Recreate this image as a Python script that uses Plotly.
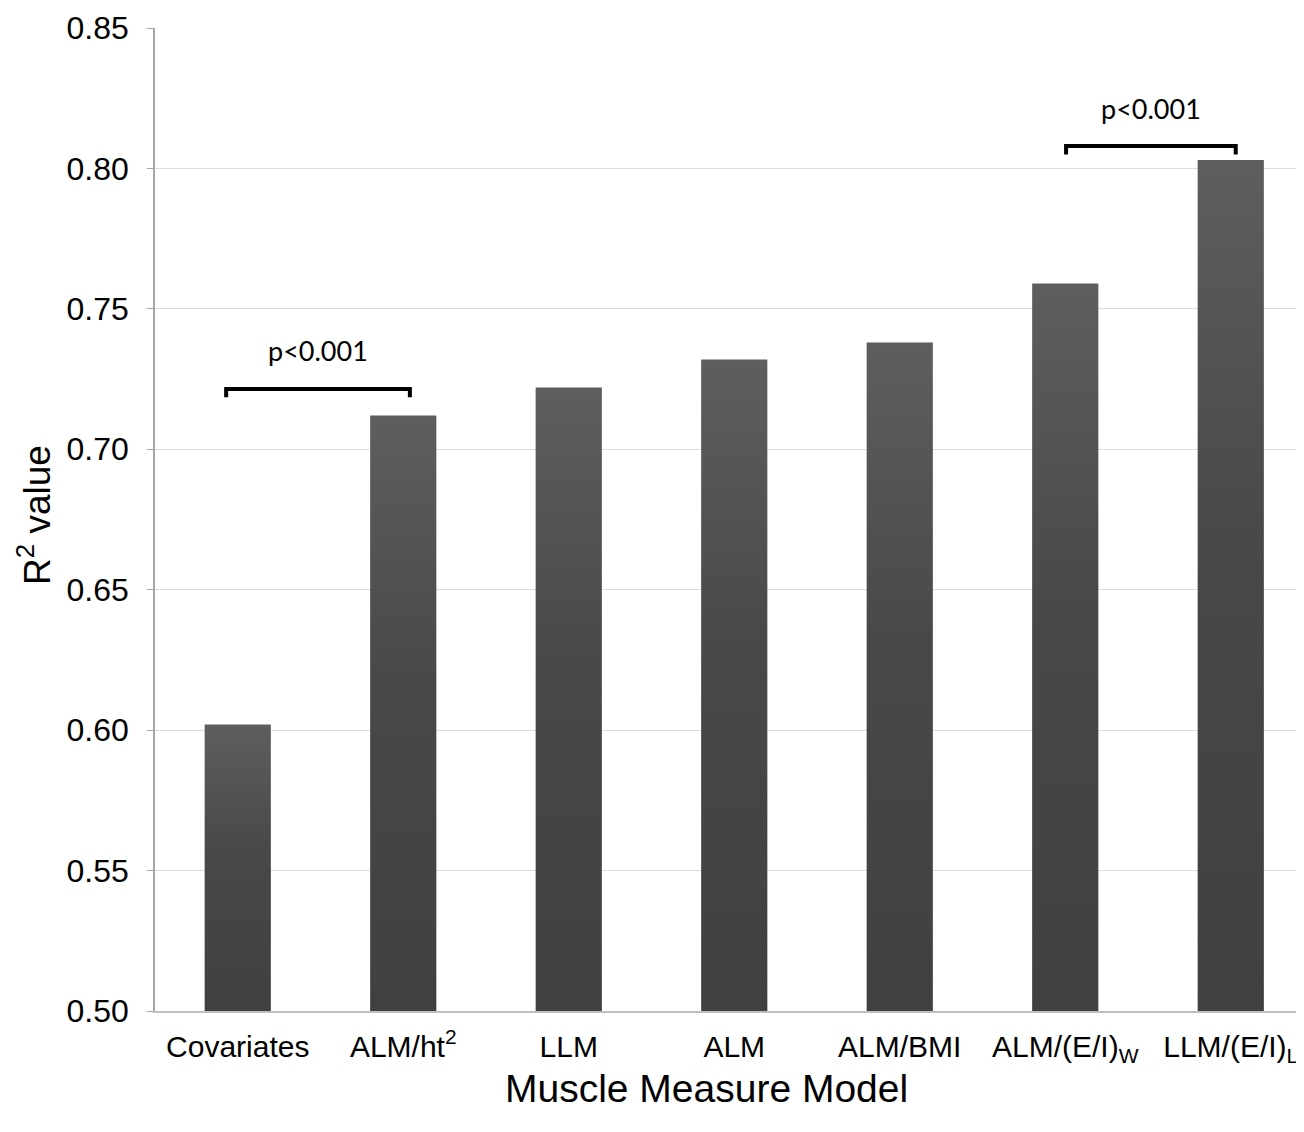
import plotly.graph_objects as go

categories = ["Covariates", "ALM/ht<sup>2</sup>", "LLM", "ALM", "ALM/BMI",
              "ALM/(E/I)<sub>W</sub>", "LLM/(E/I)<sub>L</sub>"]
r2_values = [0.602, 0.712, 0.722, 0.732, 0.738, 0.759, 0.803]
y_ticks = [0.50, 0.55, 0.60, 0.65, 0.70, 0.75, 0.80, 0.85]

# significance comparisons: (from index, to index, label)
comparisons = [(0, 1, "p<0.001"), (5, 6, "p<0.001")]

BASE = 0.50
BAR_W = 0.4
x_idx = list(range(len(categories)))

# page body has an 8px offset; plot area should span x 155..1312, y 28..1011
PLOT_L, PLOT_R, PLOT_T, PLOT_B = 155, 1312, 28, 1011
PW, PH = PLOT_R - PLOT_L, PLOT_B - PLOT_T

fig = go.Figure()
for i, v in zip(x_idx, r2_values):
    xl, xr = i - BAR_W / 2, i + BAR_W / 2
    fig.add_trace(go.Scatter(
        x=[xl, xr, xr, xl, xl], y=[BASE, BASE, v, v, BASE],
        mode="lines", fill="toself", line=dict(width=0, color="#4d4d4d"),
        fillgradient=dict(type="vertical",
                          colorscale=[[0, "#404040"], [0.55, "#484848"], [1, "#5e5e5e"]]),
        showlegend=False, hoverinfo="skip",
    ))

for a, b, label in comparisons:
    if a == 0:
        top, x0, x1 = 0.7215, a - 0.07, b + 0.04
    else:
        top, x0, x1 = r2_values[b] + 0.005, a + 0.005, b + 0.03
    drop = 0.003
    fig.add_shape(type="path",
                  path=f"M {x0},{top - drop} L {x0},{top} L {x1},{top} L {x1},{top - drop}",
                  xref="x", yref="y", line=dict(color="black", width=4))
    fig.add_annotation(x=(x0 + x1) / 2, y=top + 0.0135, xref="x", yref="y",
                       text=label, showarrow=False,
                       font=dict(family="Lato", size=27, color="black"))

fig.update_layout(
    width=1304, height=1132,
    margin=dict(l=PLOT_L - 8, r=0, t=PLOT_T - 8, b=1132 - PLOT_B + 8, autoexpand=False),
    plot_bgcolor="white", paper_bgcolor="white",
    font=dict(family="Liberation Sans", color="black"),
    xaxis=dict(
        tickmode="array", tickvals=x_idx, ticktext=categories,
        range=[-0.5, -0.5 + PW / 165.5], automargin=False,
        showline=True, linecolor="#bfbfbf", linewidth=1.5,
        ticks="", tickfont=dict(size=30, color="black"), ticklabelstandoff=8,
        showgrid=False, zeroline=False,
    ),
    yaxis=dict(
        range=[0.5, 0.85], tickvals=y_ticks, tickformat=".2f", automargin=False,
        showline=True, linecolor="#a6a6a6", linewidth=1.5,
        ticks="outside", ticklen=6, tickcolor="#a6a6a6",
        tickfont=dict(size=32, color="black"), ticklabelstandoff=12,
        showgrid=True, gridcolor="#dcdcdc", gridwidth=1,
        zeroline=False,
    ),
)
fig.add_annotation(x=(706 - PLOT_L) / PW, y=-(1088 - PLOT_B) / PH,
                   xref="paper", yref="paper",
                   text="Muscle Measure Model", showarrow=False,
                   font=dict(size=39, color="black"), yanchor="middle")
fig.add_annotation(x=(34 - PLOT_L) / PW, y=(PLOT_B - 515) / PH,
                   xref="paper", yref="paper", textangle=-90,
                   text="R<sup>2</sup> value", showarrow=False,
                   font=dict(size=37, color="black"), xanchor="center", yanchor="middle")

fig.write_html("out.html")
